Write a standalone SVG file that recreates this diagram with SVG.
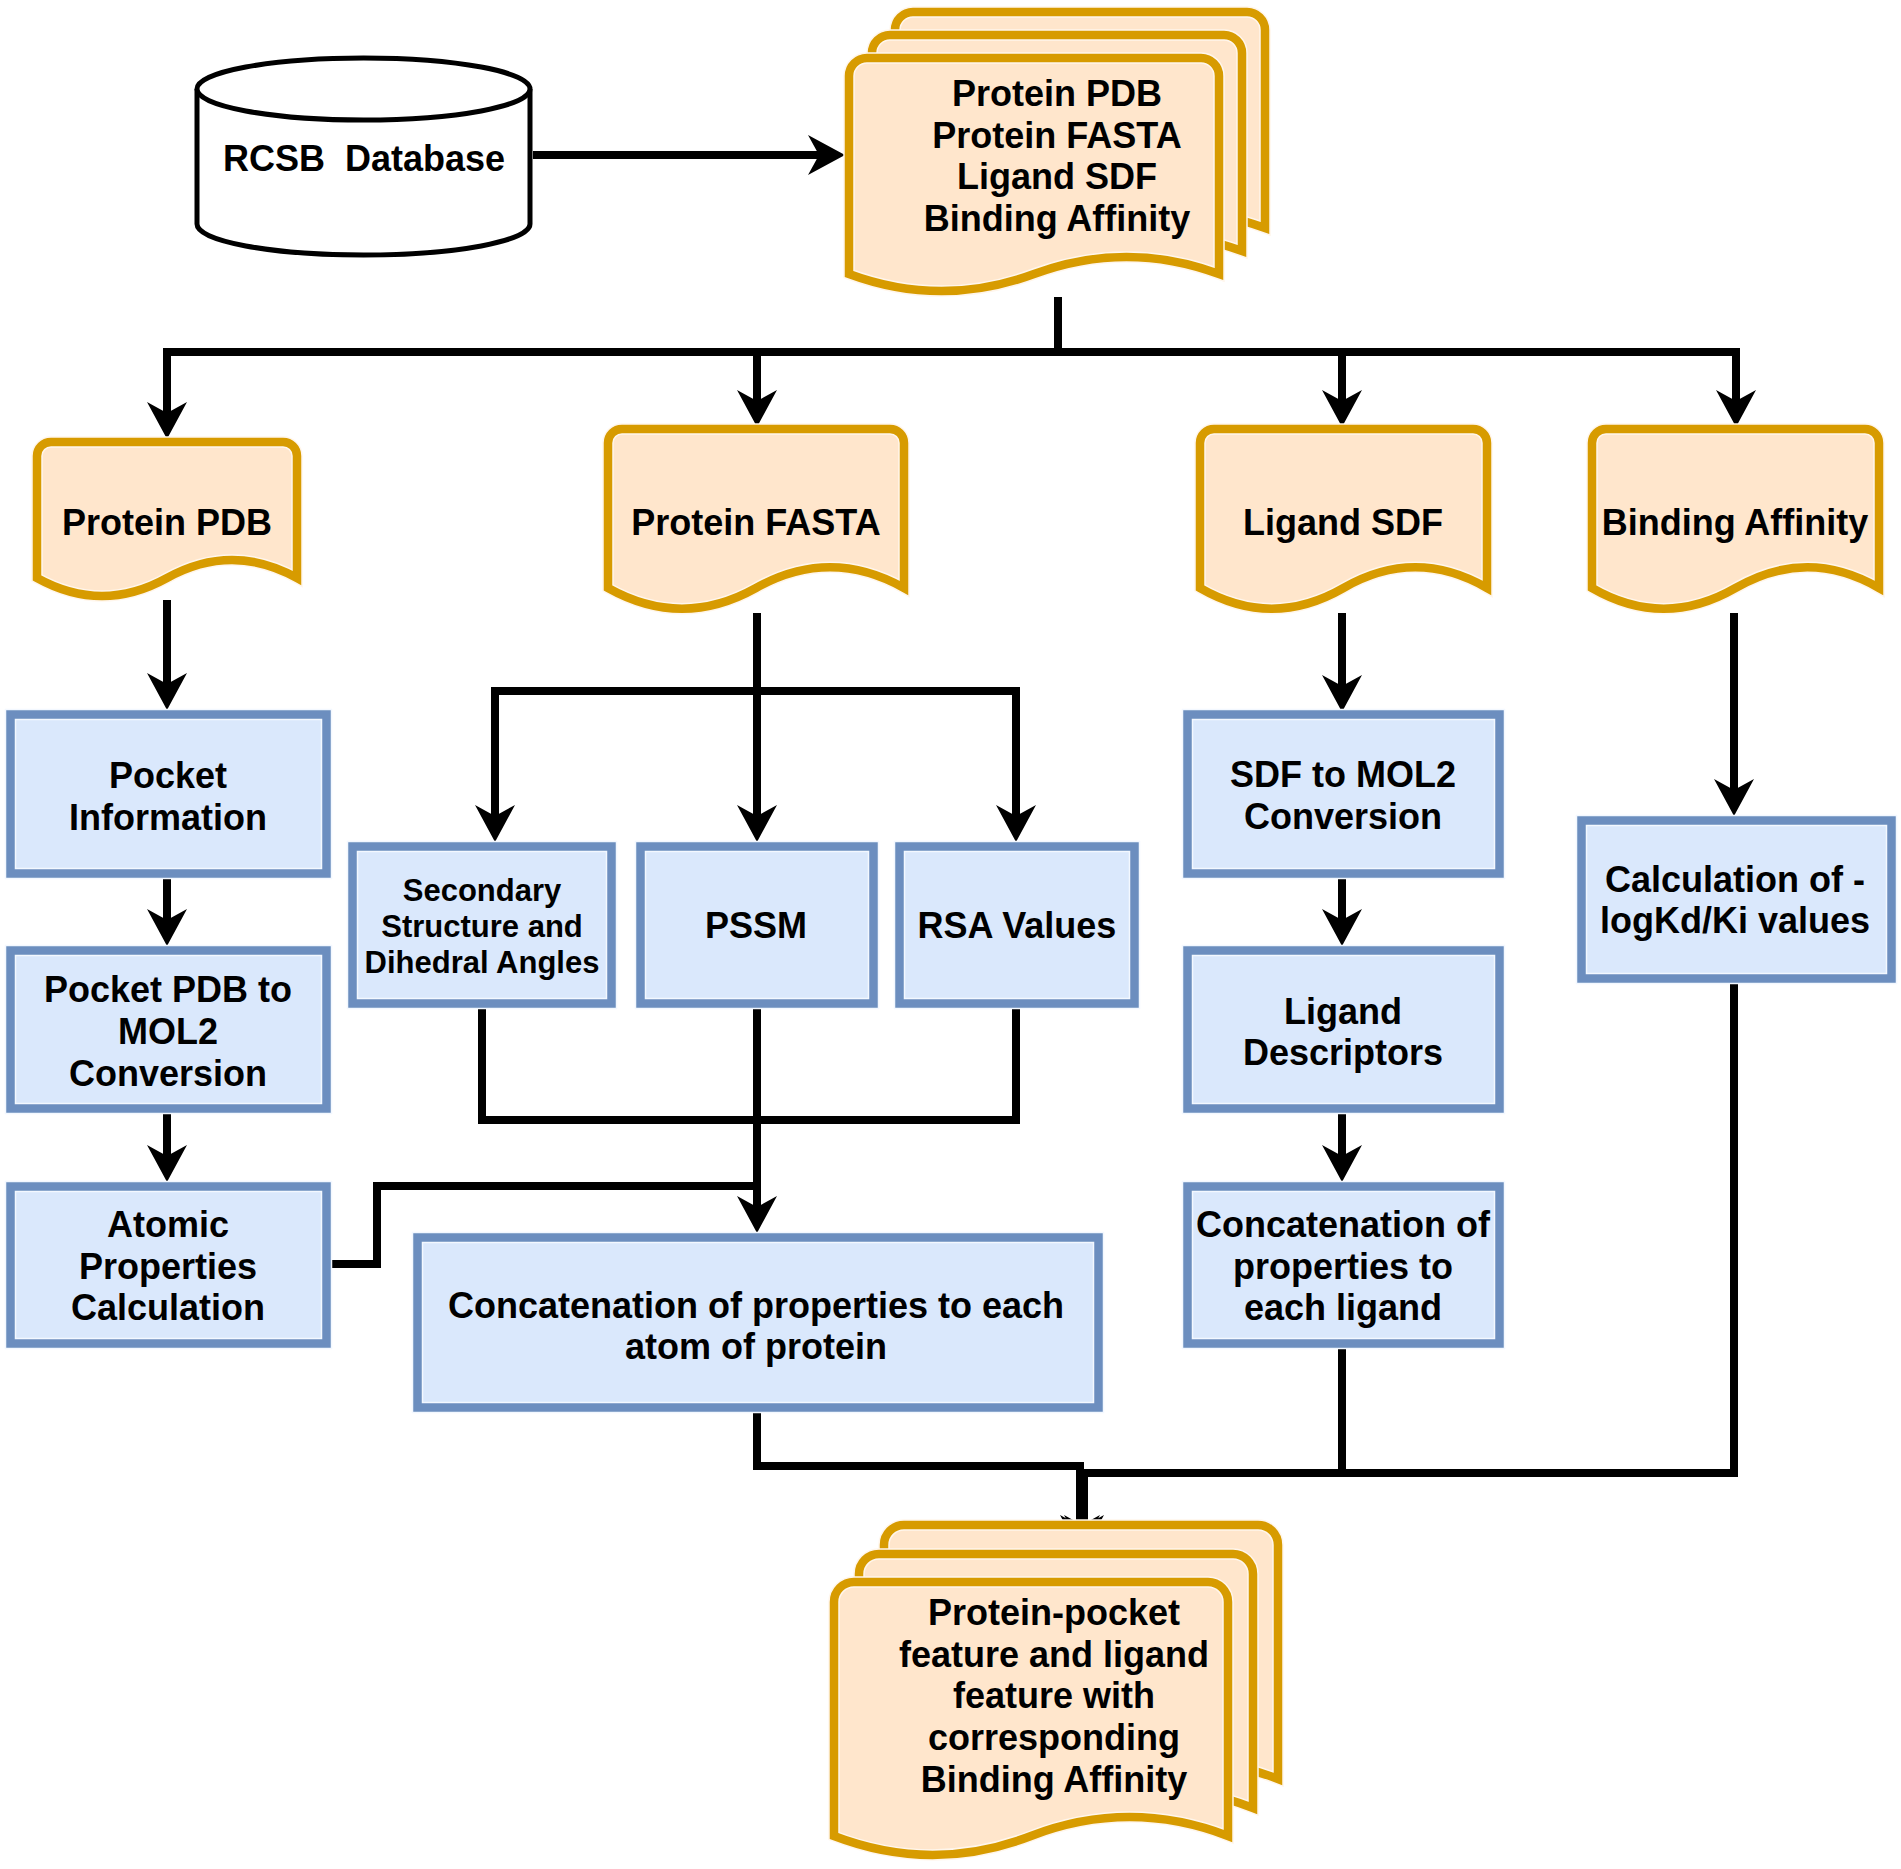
<svg xmlns="http://www.w3.org/2000/svg" xmlns:xlink="http://www.w3.org/1999/xlink" width="1901" height="1869" viewBox="0 0 1901 1869">
<style>
  .lbl{font-family:"Liberation Sans",Arial,Helvetica,sans-serif;font-weight:bold;font-size:36px;fill:#000;text-anchor:middle}
  .sm{font-size:31px}
  .conn{fill:none;stroke:#000;stroke-width:8;stroke-linejoin:miter}
  .dh{fill:#ffe6cc;stroke:#fff6ec;stroke-width:11.5}
  .do{fill:none;stroke:#d79b00;stroke-width:8.5}
  .bh{fill:#dae8fc;stroke:#f3f8ff;stroke-width:11.5}
  .bo{fill:none;stroke:#6c8ebf;stroke-width:8.5}
  .cyl{fill:#fff;stroke:#000;stroke-width:5}
</style>
<defs>
  <marker id="ah" markerUnits="userSpaceOnUse" markerWidth="37" markerHeight="40" viewBox="0 0 37 40" refX="14" refY="20" orient="auto" overflow="visible">
    <path d="M0,0 L37,20 L0,40 L11,20 Z" fill="#000"/>
  </marker>
  <path id="docTop" d="M849,76 A18,18 0 0 1 867,58 L1201,58 A18,18 0 0 1 1219,76 L1219,274 Q1126.5,239.8 1034,274 Q941.5,308.2 849,274 Z"/>
  <path id="docBot" d="M834,1602 A20,20 0 0 1 854,1582 L1208,1582 A20,20 0 0 1 1228,1602 L1228,1836 Q1129.5,1798.2 1031,1836 Q932.5,1873.8 834,1836 Z"/>
  <path id="docPDB" d="M37,456 A14,14 0 0 1 51,442 L283,442 A14,14 0 0 1 297,456 L297,578 Q232,542 167,578 Q102,614 37,578 Z"/>
  <path id="docFASTA" d="M608,443 A14,14 0 0 1 622,429 L890,429 A14,14 0 0 1 904,443 L904,588 Q830,546.6 756,588 Q682,629.4 608,588 Z"/>
  <path id="docSDF" d="M1200,443 A14,14 0 0 1 1214,429 L1473,429 A14,14 0 0 1 1487,443 L1487,588 Q1415.25,546.6 1343.5,588 Q1271.75,629.4 1200,588 Z"/>
  <path id="docBA" d="M1592,443 A14,14 0 0 1 1606,429 L1865,429 A14,14 0 0 1 1879,443 L1879,588 Q1807.25,546.6 1735.5,588 Q1663.75,629.4 1592,588 Z"/>
</defs>
<rect x="0" y="0" width="1901" height="1869" fill="#fff"/>

<g id="connectors">
  <path class="conn" d="M533,155 L822,155" marker-end="url(#ah)"/>
  <path class="conn" d="M1058,297 L1058,352 L167,352 L167,416" marker-end="url(#ah)"/>
  <path class="conn" d="M1058,352 L757,352 L757,404" marker-end="url(#ah)"/>
  <path class="conn" d="M1058,352 L1342,352 L1342,404" marker-end="url(#ah)"/>
  <path class="conn" d="M1058,352 L1736,352 L1736,404" marker-end="url(#ah)"/>
  <path class="conn" d="M167,600 L167,687" marker-end="url(#ah)"/>
  <path class="conn" d="M167,878 L167,923" marker-end="url(#ah)"/>
  <path class="conn" d="M167,1113 L167,1159" marker-end="url(#ah)"/>
  <path class="conn" d="M757,613 L757,819" marker-end="url(#ah)"/>
  <path class="conn" d="M757,691 L495,691 L495,819" marker-end="url(#ah)"/>
  <path class="conn" d="M757,691 L1016,691 L1016,819" marker-end="url(#ah)"/>
  <path class="conn" d="M482,1008 L482,1120 L1016,1120 L1016,1008"/>
  <path class="conn" d="M757,1008 L757,1210" marker-end="url(#ah)"/>
  <path class="conn" d="M331,1264 L377,1264 L377,1186 L757,1186"/>
  <path class="conn" d="M757,1412 L757,1466 L1080,1466 L1080,1529" marker-end="url(#ah)"/>
  <path class="conn" d="M1342,1348 L1342,1473 L1084,1473 L1084,1529" marker-end="url(#ah)"/>
  <path class="conn" d="M1734,983 L1734,1473 L1342,1473"/>
  <path class="conn" d="M1342,613 L1342,689" marker-end="url(#ah)"/>
  <path class="conn" d="M1342,878 L1342,923" marker-end="url(#ah)"/>
  <path class="conn" d="M1342,1113 L1342,1159" marker-end="url(#ah)"/>
  <path class="conn" d="M1734,613 L1734,793" marker-end="url(#ah)"/>
</g>

<g id="rcsb">
  <path class="cyl" d="M197,89 A166.5,31 0 0 1 530,89 L530,224 A166.5,31 0 0 1 197,224 Z"/>
  <path class="cyl" fill="none" d="M197,89 A166.5,31 0 0 0 530,89"/>
  <text class="lbl" x="364" y="171">RCSB&#160;&#160;Database</text>
</g>

<g id="inputs">
  <use xlink:href="#docTop" href="#docTop" class="dh" transform="translate(46,-46)"/>
  <use xlink:href="#docTop" href="#docTop" class="do" transform="translate(46,-46)"/>
  <use xlink:href="#docTop" href="#docTop" class="dh" transform="translate(23,-23)"/>
  <use xlink:href="#docTop" href="#docTop" class="do" transform="translate(23,-23)"/>
  <use xlink:href="#docTop" href="#docTop" class="dh"/>
  <use xlink:href="#docTop" href="#docTop" class="do"/>
  <text class="lbl" x="1057" y="106">Protein PDB</text>
  <text class="lbl" x="1057" y="148">Protein FASTA</text>
  <text class="lbl" x="1057" y="189">Ligand SDF</text>
  <text class="lbl" x="1057" y="231">Binding Affinity</text>
</g>

<g id="protein-pdb">
  <use xlink:href="#docPDB" href="#docPDB" class="dh"/>
  <use xlink:href="#docPDB" href="#docPDB" class="do"/>
  <text class="lbl" x="167" y="535">Protein PDB</text>
</g>
<g id="protein-fasta">
  <use xlink:href="#docFASTA" href="#docFASTA" class="dh"/>
  <use xlink:href="#docFASTA" href="#docFASTA" class="do"/>
  <text class="lbl" x="756" y="535">Protein FASTA</text>
</g>
<g id="ligand-sdf">
  <use xlink:href="#docSDF" href="#docSDF" class="dh"/>
  <use xlink:href="#docSDF" href="#docSDF" class="do"/>
  <text class="lbl" x="1343" y="535">Ligand SDF</text>
</g>
<g id="binding-affinity">
  <use xlink:href="#docBA" href="#docBA" class="dh"/>
  <use xlink:href="#docBA" href="#docBA" class="do"/>
  <text class="lbl" x="1735" y="535">Binding Affinity</text>
</g>

<g id="pocket-info">
  <rect class="bh" x="10.5" y="714.5" width="316" height="159"/>
  <rect class="bo" x="10.5" y="714.5" width="316" height="159"/>
  <text class="lbl" x="168" y="788">Pocket</text>
  <text class="lbl" x="168" y="830">Information</text>
</g>
<g id="pocket-mol2">
  <rect class="bh" x="10.5" y="950.5" width="316" height="158"/>
  <rect class="bo" x="10.5" y="950.5" width="316" height="158"/>
  <text class="lbl" x="168" y="1002">Pocket PDB to</text>
  <text class="lbl" x="168" y="1044">MOL2</text>
  <text class="lbl" x="168" y="1086">Conversion</text>
</g>
<g id="atomic">
  <rect class="bh" x="10.5" y="1186.5" width="316" height="157"/>
  <rect class="bo" x="10.5" y="1186.5" width="316" height="157"/>
  <text class="lbl" x="168" y="1237">Atomic</text>
  <text class="lbl" x="168" y="1279">Properties</text>
  <text class="lbl" x="168" y="1320">Calculation</text>
</g>
<g id="secondary">
  <rect class="bh" x="352.5" y="846.5" width="259" height="157"/>
  <rect class="bo" x="352.5" y="846.5" width="259" height="157"/>
  <text class="lbl sm" x="482" y="901">Secondary</text>
  <text class="lbl sm" x="482" y="937">Structure and</text>
  <text class="lbl sm" x="482" y="973">Dihedral Angles</text>
</g>
<g id="pssm">
  <rect class="bh" x="640.5" y="846.5" width="233" height="157"/>
  <rect class="bo" x="640.5" y="846.5" width="233" height="157"/>
  <text class="lbl" x="756" y="938">PSSM</text>
</g>
<g id="rsa">
  <rect class="bh" x="899.5" y="846.5" width="235" height="157"/>
  <rect class="bo" x="899.5" y="846.5" width="235" height="157"/>
  <text class="lbl" x="1017" y="938">RSA Values</text>
</g>
<g id="concat-protein">
  <rect class="bh" x="417.5" y="1237.5" width="681" height="170"/>
  <rect class="bo" x="417.5" y="1237.5" width="681" height="170"/>
  <text class="lbl" x="756" y="1318">Concatenation of properties to each</text>
  <text class="lbl" x="756" y="1359">atom of protein</text>
</g>
<g id="sdf-mol2">
  <rect class="bh" x="1187.5" y="714.5" width="312" height="159"/>
  <rect class="bo" x="1187.5" y="714.5" width="312" height="159"/>
  <text class="lbl" x="1343" y="787">SDF to MOL2</text>
  <text class="lbl" x="1343" y="829">Conversion</text>
</g>
<g id="ligand-desc">
  <rect class="bh" x="1187.5" y="950.5" width="312" height="158"/>
  <rect class="bo" x="1187.5" y="950.5" width="312" height="158"/>
  <text class="lbl" x="1343" y="1024">Ligand</text>
  <text class="lbl" x="1343" y="1065">Descriptors</text>
</g>
<g id="concat-ligand">
  <rect class="bh" x="1187.5" y="1186.5" width="312" height="157"/>
  <rect class="bo" x="1187.5" y="1186.5" width="312" height="157"/>
  <text class="lbl" x="1343" y="1237">Concatenation of</text>
  <text class="lbl" x="1343" y="1279">properties to</text>
  <text class="lbl" x="1343" y="1320">each ligand</text>
</g>
<g id="calc-logkd">
  <rect class="bh" x="1581.5" y="820.5" width="310" height="158"/>
  <rect class="bo" x="1581.5" y="820.5" width="310" height="158"/>
  <text class="lbl" x="1735" y="892">Calculation of -</text>
  <text class="lbl" x="1735" y="933">logKd/Ki values</text>
</g>

<g id="output">
  <use xlink:href="#docBot" href="#docBot" class="dh" transform="translate(50,-57)"/>
  <use xlink:href="#docBot" href="#docBot" class="do" transform="translate(50,-57)"/>
  <use xlink:href="#docBot" href="#docBot" class="dh" transform="translate(25,-28)"/>
  <use xlink:href="#docBot" href="#docBot" class="do" transform="translate(25,-28)"/>
  <use xlink:href="#docBot" href="#docBot" class="dh"/>
  <use xlink:href="#docBot" href="#docBot" class="do"/>
  <text class="lbl" x="1054" y="1625">Protein-pocket</text>
  <text class="lbl" x="1054" y="1667">feature and ligand</text>
  <text class="lbl" x="1054" y="1708">feature with</text>
  <text class="lbl" x="1054" y="1750">corresponding</text>
  <text class="lbl" x="1054" y="1792">Binding Affinity</text>
</g>
</svg>
